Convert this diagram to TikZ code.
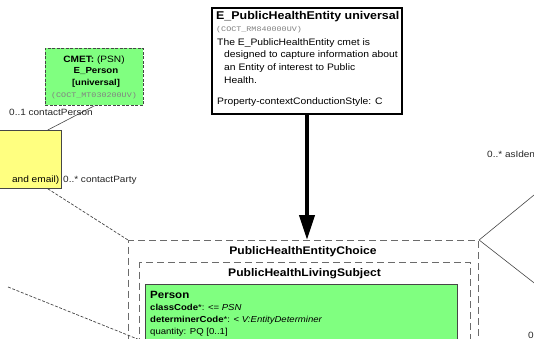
\documentclass[tikz,border=0pt]{standalone}
\usepackage{fontspec}
\setmainfont{Liberation Sans}
\setmonofont{Liberation Mono}
\newfontfamily\widesans[FakeStretch=1.1]{Liberation Sans}
\newfontfamily\widemono[FakeStretch=1.2]{Liberation Mono}
\usetikzlibrary{arrows.meta,calc}
\definecolor{cmetgreen}{RGB}{128,255,128}
\definecolor{noteyellow}{RGB}{255,255,128}
\definecolor{edgegray}{RGB}{70,70,70}
\begin{document}
\begin{tikzpicture}[x=1pt,y=-1pt,
  box/.style={draw, inner sep=0pt, anchor=north west},
  frame/.style={box, draw=edgegray!80, line width=1.1pt, dash pattern=on 7pt off 4pt},
  body/.style={inner sep=0pt, anchor=west, font=\widesans\fontsize{9.4}{11}\selectfont},
  attr/.style={inner sep=0pt, anchor=west, font=\widesans\fontsize{8.7}{10}\selectfont},
  lbl/.style={inner sep=0pt, anchor=west, text=black!85, font=\widesans\fontsize{9.1}{10}\selectfont},
  code/.style={inner sep=0pt, text=gray, font=\widemono\fontsize{7}{8}\selectfont},
  ttl/.style={inner sep=0pt, font=\widesans\bfseries\fontsize{11}{12}\selectfont},
  assoc/.style={draw=edgegray, line width=0.6pt},
  choiceassoc/.style={draw=edgegray, line width=0.7pt, dash pattern=on 3pt off 1.6pt},
  bigarrow/.style={line width=4pt, -{Triangle[length=25pt,width=15pt]}}]
\useasboundingbox (0,0) rectangle (534,339);
\clip (0,0) rectangle (534,339);

% entry point of the CMET
\node[box, line width=2pt, fill=white, minimum width=190pt, minimum height=106pt] (phe) at (211,7) {};
\node[ttl, anchor=west, font=\widesans\bfseries\fontsize{11.3}{12}\selectfont] at (216,17) {E\_PublicHealthEntity universal};
\node[code, anchor=west] at (216,30) {(COCT\_RM840000UV)};
\node[body] at (217,43) {The E\_PublicHealthEntity cmet is};
\node[body] at (224,55.5) {designed to capture information about};
\node[body] at (224,68) {an Entity of interest to Public};
\node[body] at (224,80.5) {Health.};
\node[body] at (217,102) {Property-contextConductionStyle: C};

% choice box and nested classes
\node[frame, minimum width=350pt, minimum height=130pt] (choice) at (128,240) {};
\node[ttl] at (303,252) {PublicHealthEntityChoice};
\node[frame, minimum width=331pt, minimum height=110pt] (living) at (139,262) {};
\node[ttl] at (304.5,274) {PublicHealthLivingSubject};
\node[box, draw=edgegray, line width=0.8pt, fill=cmetgreen, minimum width=312pt, minimum height=90pt] (person) at (145,284) {};
\node[ttl, anchor=west, font=\widesans\bfseries\fontsize{10.5}{13}\selectfont] at (150,295) {Person};
\node[attr] at (150,307.5) {\textbf{classCode}*: <= \textit{PSN}};
\node[attr] at (150,320) {\textbf{determinerCode}*: < \textit{V:EntityDeterminer}};
\node[attr] at (150,332.5) {quantity: PQ [0..1]};

% CMET reference
\node[box, draw=edgegray, line width=0.8pt, dash pattern=on 3pt off 1.5pt, fill=cmetgreen, minimum width=98pt, minimum height=57pt] (cmet) at (45,48) {};
\node[inner sep=0pt, font=\widesans\fontsize{9.2}{10}\selectfont] at (94,60) {\textbf{CMET:} (PSN)};
\node[ttl, font=\widesans\bfseries\fontsize{8.8}{10}\selectfont] at (96,71.5) {E\_Person};
\node[ttl, font=\widesans\bfseries\fontsize{8.6}{10}\selectfont] at (96,83.5) {[universal]};
\node[code] at (94,95.5) {(COCT\_MT030200UV)};

% contact party class
\node[box, draw=edgegray, line width=0.8pt, fill=noteyellow, minimum width=91pt, minimum height=58pt] (contact) at (-30,130) {};
\node[inner sep=0pt, anchor=east, font=\widesans\fontsize{9.2}{10}\selectfont] at (59.5,180) {and email)};

% associations
\coordinate (cp) at ($(contact.north east)+(-14,0)$);
\coordinate (cb) at ($(contact.south east)+(-14,0)$);
\draw[assoc] (cmet.south) -- (cp);
\node[lbl] at (9,112) {0..1 contactPerson};
\node[lbl] at (63,180) {0..* contactParty};
\draw[choiceassoc] (cb) -- (choice.north west);
\coordinate (lowleft) at (8,287);
\coordinate (lowend) at (150,344);
\draw[choiceassoc] (lowleft) -- (lowend);
\coordinate (upright) at (556,177);
\coordinate (downright) at (556,300);
\draw[assoc] (choice.north east) -- (upright);
\draw[assoc] (choice.north east) -- (downright);
\node[lbl] at (487,154) {0..* asIden};
\node[lbl] at (528,335) {0};

\draw[bigarrow] (phe.south) -- (phe.south |- choice.north);
\end{tikzpicture}
\end{document}
